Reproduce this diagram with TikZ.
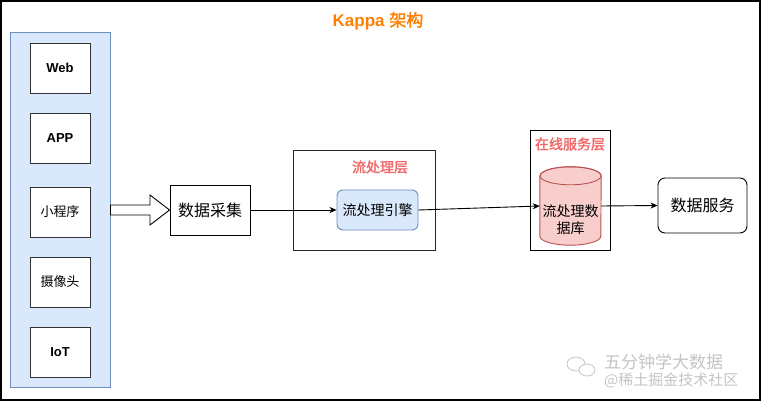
\documentclass[tikz,border=0pt]{standalone}
\usepackage{fontspec}
\setmainfont{Liberation Sans}
\newfontfamily\cjk[AutoFakeBold=2]{Noto Sans CJK SC}
\usetikzlibrary{arrows.meta,calc,shapes.geometric}
\definecolor{blfill}{HTML}{DAE8FC}
\definecolor{bldraw}{HTML}{6C8EBF}
\definecolor{rdfill}{HTML}{F8CECC}
\definecolor{rddraw}{HTML}{B85450}
\definecolor{ttl}{HTML}{FF8000}
\definecolor{lbl}{HTML}{F06868}
\definecolor{wm}{HTML}{C4C4C4}
\begin{document}
\begin{tikzpicture}[x=1pt,y=-1pt,
  srcbox/.style={draw=black!80,line width=0.9pt,fill=white,minimum width=60pt,minimum height=50pt,inner sep=0pt,font=\fontsize{13}{15}\selectfont},
  plainbox/.style={draw=black,line width=0.9pt,inner sep=0pt},
  layerlbl/.style={text=lbl,font=\cjk\bfseries\fontsize{14}{16}\selectfont,inner sep=0pt},
  conn/.style={line width=0.9pt,-{Stealth[length=7pt,width=6pt,inset=2pt]}}]
\useasboundingbox (0,0) rectangle (761,401);
\draw[line width=1.2pt] (1,1) rectangle (760,400);
\node[font=\bfseries\fontsize{17}{19}\selectfont,text=ttl,inner sep=0pt] (title) at (378,21) {Kappa {\cjk\bfseries 架构}};
% left panel
\node[fill=blfill,draw=bldraw,line width=0.9pt,minimum width=100pt,minimum height=355pt,inner sep=0pt] (panel) at (60,210) {};
\node[srcbox] (web) at (60,68) {\bfseries Web};
\node[srcbox] (app) at (60,138) {\bfseries APP};
\node[srcbox] (mini) at (60,212) {\cjk 小程序};
\node[srcbox] (cam) at (60,282) {\cjk 摄像头};
\node[srcbox] (iot) at (60,352) {\bfseries IoT};
% collect
\node[plainbox,minimum width=80pt,minimum height=50pt,font=\cjk\fontsize{16}{18}\selectfont] (collect) at (210,210) {数据采集};
% block arrow
\draw[line width=0.9pt,fill=white]
  (panel.east |- 0,205) -- (150,205) -- (150,195) -- (collect.west) -- (150,225) -- (150,215) -- (panel.east |- 0,215) -- cycle;
% stream layer
\node[plainbox,draw=black!85,minimum width=142pt,minimum height=100pt] (slayer) at (364,200) {};
\node[layerlbl] (slbl) at (380,167) {流处理层};
\node[fill=blfill,draw=bldraw,line width=0.9pt,rounded corners=6pt,minimum width=81pt,minimum height=40pt,inner sep=0pt,font=\cjk\fontsize{14}{16}\selectfont] (engine) at (377.5,210) {流处理引擎};
% online service layer
\node[plainbox,minimum width=80pt,minimum height=120pt] (olayer) at (570,190) {};
\node[layerlbl] (olbl) at (570,144) {在线服务层};
\node[minimum width=61pt,minimum height=78pt,inner sep=0pt] (db) at (570.5,206) {};
\draw[fill=rdfill,draw=rddraw,line width=0.9pt]
  ($(db.north west)+(0,9)$) -- ($(db.south west)+(0,-9)$)
  arc[start angle=180,end angle=360,x radius=30.5pt,y radius=9pt]
  -- ($(db.north east)+(0,9)$)
  arc[start angle=0,end angle=180,x radius=30.5pt,y radius=9pt] -- cycle;
\draw[draw=rddraw,line width=0.9pt] ($(db.north)+(0,9)$) ellipse[x radius=30.5pt,y radius=9pt];
\node[align=center,font=\cjk\fontsize{14}{16.5}\selectfont,inner sep=0pt] (dbtxt) at (570.5,219.5) {流处理数\\据库};
% service
\node[draw=black,line width=0.9pt,rounded corners=7pt,minimum width=89pt,minimum height=55pt,inner sep=0pt,font=\cjk\fontsize{16}{18}\selectfont] (svc) at (702.5,205.5) {数据服务};
% connectors
\draw[conn] (collect.east) -- (engine.west);
\draw[conn] (engine.east) -- (db.west);
\draw[conn] (db.east) -- (svc.west);
% watermark
\node[text=wm,font=\cjk\fontsize{17}{19}\selectfont,inner sep=0pt,anchor=west] (wm1) at (604,362) {五分钟学大数据};
\node[text=wm,font=\cjk\fontsize{15}{17}\selectfont,inner sep=0pt,anchor=west] (wm2) at (604,380) {@稀土掘金技术社区};
\node[draw=wm,line width=0.8pt,ellipse,minimum width=18pt,minimum height=14pt,inner sep=0pt] (wmi1) at (576,364) {};
\node[draw=wm,fill=white,line width=0.8pt,ellipse,minimum width=16pt,minimum height=12pt,inner sep=0pt] (wmi2) at (587,370) {};
\end{tikzpicture}
\end{document}
